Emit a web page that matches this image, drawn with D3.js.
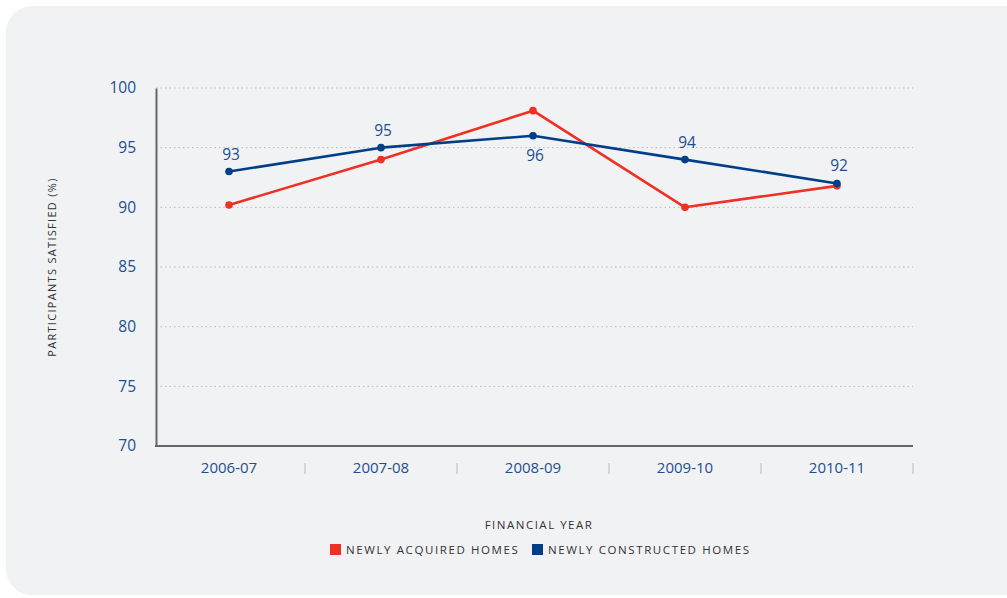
<!DOCTYPE html>
<html>
<head>
<meta charset="utf-8">
<script src="https://cdn.jsdelivr.net/npm/d3@7"></script>
<style>
  html, body { margin: 0; padding: 0; background: #ffffff; }
  svg { display: block; }
  text { font-family: "Open Sans", "Noto Sans", sans-serif; }
</style>
</head>
<body>
<svg id="chart" width="1007" height="598"></svg>
<script>
// Financial years on the x axis
const years = ["2006-07", "2007-08", "2008-09", "2009-10", "2010-11"];
// Share of participants satisfied (%)
const acquired = [90.2, 94.0, 98.1, 90.0, 91.8];
const constructed = [93, 95, 96, 94, 92];
// Value labels placed above (-1) or below (+1) each constructed point
const labelSide = [-1, -1, 1, -1, -1];
const yTicks = [70, 75, 80, 85, 90, 95, 100];

const seriesNames = ["NEWLY ACQUIRED HOMES", "NEWLY CONSTRUCTED HOMES"];
const seriesColors = ["#ee3124", "#003e87"];

const svg = d3.select("#chart");

// Rounded grey panel
svg.append("rect")
  .attr("x", 6).attr("y", 6)
  .attr("width", 1030).attr("height", 589)
  .attr("rx", 26).attr("ry", 26)
  .attr("fill", "#f1f2f4");

const plotLeft = 156, plotRight = 913, plotTop = 88, plotBottom = 446;

const x = d3.scaleBand().domain(years).range([153, 913]);
const y = d3.scaleLinear().domain([70, 100]).range([plotBottom, plotTop]);
const cx = d => x(d) + x.bandwidth() / 2;

// Dotted gridlines
svg.append("g")
  .selectAll("line")
  .data(yTicks.filter(t => t > 70))
  .join("line")
  .attr("x1", plotLeft).attr("x2", plotRight)
  .attr("y1", d => y(d)).attr("y2", d => y(d))
  .attr("stroke", "#b9bbbf")
  .attr("stroke-width", 1)
  .attr("stroke-dasharray", "1.5,3");

// Y axis
const yAxis = svg.append("g")
  .attr("transform", `translate(${plotLeft},0)`)
  .call(d3.axisLeft(y).tickValues(yTicks).tickSize(0).tickPadding(20));
yAxis.select(".domain").attr("stroke", "#666666").attr("stroke-width", 2);
yAxis.selectAll("text")
  .attr("fill", "#1d4f8f")
  .style("font-size", "15.5px")
  .style("font-family", "'Open Sans', sans-serif");

// X axis line
svg.append("line")
  .attr("x1", plotLeft - 1).attr("x2", plotRight)
  .attr("y1", plotBottom).attr("y2", plotBottom)
  .attr("stroke", "#666666").attr("stroke-width", 2);

// X axis labels and separators
const xAxis = svg.append("g")
  .attr("transform", `translate(0,${plotBottom})`)
  .call(d3.axisBottom(x).tickSize(0).tickPadding(16));
xAxis.select(".domain").remove();
xAxis.selectAll("text")
  .attr("fill", "#1d4f8f")
  .style("font-size", "15px")
  .style("font-family", "'Open Sans', sans-serif");

svg.append("g")
  .selectAll("line")
  .data(years)
  .join("line")
  .attr("x1", d => x(d) + x.bandwidth()).attr("x2", d => x(d) + x.bandwidth())
  .attr("y1", plotBottom + 17).attr("y2", plotBottom + 28)
  .attr("stroke", "#b9bbbf").attr("stroke-width", 1);

// Axis titles
svg.append("text")
  .attr("x", 539).attr("y", 529)
  .attr("text-anchor", "middle")
  .attr("fill", "#333333")
  .style("font-size", "11.5px")
  .style("letter-spacing", "1.5px")
  .text("FINANCIAL YEAR");

svg.append("text")
  .attr("transform", "translate(56,267) rotate(-90)")
  .attr("text-anchor", "middle")
  .attr("fill", "#333333")
  .style("font-size", "11px")
  .style("letter-spacing", "1.3px")
  .text("PARTICIPANTS SATISFIED (%)");

// Lines and points
const line = d3.line().x((d, i) => cx(years[i])).y(d => y(d));
[acquired, constructed].forEach((vals, s) => {
  svg.append("path")
    .datum(vals)
    .attr("d", line)
    .attr("fill", "none")
    .attr("stroke", seriesColors[s])
    .attr("stroke-width", 2.6)
    .attr("stroke-linejoin", "round");
  svg.append("g")
    .selectAll("circle")
    .data(vals)
    .join("circle")
    .attr("cx", (d, i) => cx(years[i]))
    .attr("cy", d => y(d))
    .attr("r", 3.8)
    .attr("fill", seriesColors[s]);
});

// Value labels on the constructed series
svg.append("g")
  .selectAll("text")
  .data(constructed)
  .join("text")
  .attr("x", (d, i) => cx(years[i]) + 2)
  .attr("y", (d, i) => y(d) + (labelSide[i] < 0 ? -12 : 25))
  .attr("text-anchor", "middle")
  .attr("fill", "#1d4f8f")
  .style("font-size", "15.5px")
  .text(d => d3.format(".0f")(d));

// Legend
const legend = svg.append("g").attr("transform", "translate(330,549)");
const legendX = [0, 202];
seriesNames.forEach((name, i) => {
  legend.append("rect")
    .attr("x", legendX[i]).attr("y", -5)
    .attr("width", 11).attr("height", 11)
    .attr("fill", seriesColors[i]);
  legend.append("text")
    .attr("x", legendX[i] + 16).attr("y", 4.5)
    .attr("fill", "#333333")
    .style("font-size", "11.5px")
    .style("letter-spacing", "1.6px")
    .text(name);
});
</script>
</body>
</html>
